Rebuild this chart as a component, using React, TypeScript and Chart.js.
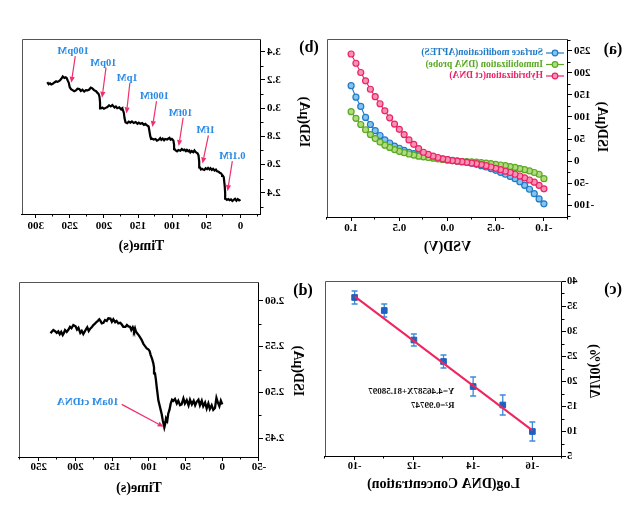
import React, { useEffect, useRef } from "react";
import { Chart, registerables } from "chart.js";
Chart.register(...registerables);

const FONT = '"Liberation Serif", "Times New Roman", serif';

// ---------- (a) I-V curves ----------
const vsd = [-1.0, -0.95, -0.9, -0.85, -0.8, -0.75, -0.7, -0.65, -0.6, -0.55, -0.5, -0.45, -0.4, -0.35, -0.3, -0.25, -0.2, -0.15, -0.1, -0.05, 0.0,
  0.05, 0.1, 0.15, 0.2, 0.25, 0.3, 0.35, 0.4, 0.45, 0.5, 0.55, 0.6, 0.65, 0.7, 0.75, 0.8, 0.85, 0.9, 0.95, 1.0];
const aptesIsd = [-97, -86, -74, -64, -55, -47, -40, -35, -30, -25.5, -21, -17, -13.5, -10.5, -7.5, -5, -3, -1.5, 0, 1.5, 3,
  4.5, 6, 7.5, 9, 11, 14, 17, 20, 24, 29, 34, 41, 48, 58, 69, 83, 99, 124, 145, 171];
const probeIsd = [-40, -30, -26, -22.5, -19.5, -17, -14.5, -12.5, -10.5, -9, -7.5, -6, -4.5, -3.5, -2.5, -2, -1.5, -1, 0, 1, 2,
  3.5, 5, 6.5, 8, 9.5, 11, 13.5, 16, 19, 22, 26, 31, 36, 43, 51, 60, 71, 83, 97, 112];
const hybridIsd = [-63, -55, -48, -43, -38, -34, -30, -26, -23, -19.5, -16.5, -13.5, -10.5, -8, -6, -4.5, -3, -1.5, 0, 1, 3,
  5, 8, 11, 15, 20, 28, 38, 48, 60, 72, 84, 98, 114, 130, 146, 163, 182, 201, 222, 243];
const ivLegend = ["Surface modification(APTES)", "Immobilization (DNA probe)", "Hybridization(ct DNA)"];
const ivXTicks = [-1.0, -0.5, 0.0, 0.5, 1.0];
const ivYTicks = [-100, -50, 0, 50, 100, 150, 200, 250];

// ---------- (b) step response ----------
const stepTime = [0, 2, 4, 6, 8, 10, 12, 14, 16, 18, 20, 21.8, 22.5, 23.2, 24.5, 25.7, 27, 28.5, 30.5, 32, 34.4, 36, 38, 40.2, 42, 44, 45.5,
  47.5, 49, 51, 53, 54.7, 56.5, 58, 59.5, 60.5, 61.5, 63, 64.5, 66, 67.5, 69.3, 71.6, 73.5, 75, 76.5, 78.5, 80, 82, 83.8, 86, 88, 91, 93,
  95, 96.5, 97.3, 98.3, 100.6, 102.5, 104, 105.5, 107.5, 110.4, 112, 114, 116, 117.6, 120, 122.4, 124.5, 127.3, 129.5, 131, 132.1, 133.5,
  134.6, 136.9, 139.4, 141.5, 144, 146.7, 149, 151, 153.5, 156.4, 159, 161.2, 163.6, 166, 168.5, 169.9, 170.9, 172.5, 173.2, 175.5,
  177.5, 180.5, 182.5, 184.5, 187.7, 190, 192.5, 195, 197.5, 200, 202.5, 204.5, 205.7, 206.5, 207.8, 209.5, 211.5, 214.5, 217, 219.3,
  221.5, 224, 226.5, 229, 231.5, 233.8, 236, 238.6, 241, 243.5, 246, 248.3, 250.2, 251.5, 253, 254.5, 256, 258, 260.3, 262.5, 264.5,
  266.5, 268, 270, 272.5, 275, 277, 279, 281, 283];
const stepIsd = [2.352, 2.346, 2.356, 2.344, 2.358, 2.35, 2.342, 2.354, 2.348, 2.356, 2.35, 2.358, 2.4, 2.45, 2.51, 2.52, 2.528, 2.538,
  2.542, 2.55, 2.553, 2.565, 2.558, 2.57, 2.562, 2.574, 2.566, 2.577, 2.568, 2.574, 2.562, 2.565, 2.57, 2.566, 2.58, 2.62, 2.665, 2.68,
  2.685, 2.69, 2.7, 2.688, 2.696, 2.686, 2.7, 2.694, 2.704, 2.696, 2.706, 2.702, 2.71, 2.698, 2.704, 2.694, 2.7, 2.71, 2.74, 2.77, 2.782,
  2.776, 2.79, 2.785, 2.778, 2.782, 2.772, 2.784, 2.776, 2.788, 2.775, 2.77, 2.782, 2.778, 2.784, 2.782, 2.8, 2.84, 2.87, 2.878, 2.888,
  2.882, 2.894, 2.889, 2.898, 2.89, 2.902, 2.895, 2.906, 2.897, 2.904, 2.894, 2.9, 2.93, 2.968, 2.99, 3.0, 2.993, 3.006, 3.0, 3.012,
  3.004, 3.022, 3.012, 3.02, 3.008, 3.002, 2.996, 3.004, 2.998, 3.04, 3.08, 3.1, 3.108, 3.12, 3.128, 3.14, 3.146, 3.132, 3.126, 3.128,
  3.118, 3.13, 3.122, 3.136, 3.138, 3.126, 3.12, 3.128, 3.135, 3.15, 3.18, 3.195, 3.212, 3.218, 3.214, 3.224, 3.208, 3.196, 3.19, 3.186,
  3.19, 3.182, 3.172, 3.168, 3.176, 3.17, 3.184];
const stepXTicks = [0, 50, 100, 150, 200, 250, 300];
const stepYTicks = [2.4, 2.6, 2.8, 3.0, 3.2, 3.4];
const concLabels = ["0.1fM", "1fM", "10fM", "100fM", "1pM", "10pM", "100pM"];
const concLabelT = [12, 51, 88, 126, 166, 201, 245];
const concLabelI = [2.657, 2.841, 2.966, 3.085, 3.215, 3.32, 3.405];
const arrowFromT = [12, 47, 84, 123, 162, 197, 242];
const arrowFromI = [2.625, 2.807, 2.932, 3.05, 3.18, 3.287, 3.369];
const arrowToT = [19, 55.7, 90.5, 129, 167, 202.8, 247.8];
const arrowToI = [2.412, 2.608, 2.731, 2.866, 2.963, 3.074, 3.18];

// ---------- (c) calibration ----------
const logConc = [-10, -11, -12, -13, -14, -15, -16];
const deltaI = [36.7, 34.1, 28.2, 23.9, 18.9, 15.2, 9.9];
const deltaErr = [1.3, 1.3, 1.2, 1.3, 1.9, 2.0, 1.9];
const fitX = [-10, -16];
const fitY = [36.92, 10.13];
const calXTicks = [-16, -14, -12, -10];
const calYTicks = [5, 10, 15, 20, 25, 30, 35, 40];
const fitText = ["Y=4.46587X+81.58097", "R\u00B2=0.99747"];

// ---------- (d) single-shot response ----------
const traceTime = [0, 2, 4, 6, 8, 10, 12.3, 14.5, 17, 19, 21.3, 23.5, 26, 28, 30.5, 32.5, 34.9, 37, 39, 41.5, 44, 46, 48.5, 51, 53,
  55.5, 57.6, 60, 62, 64.5, 66.8, 68.5, 70.3, 72, 73.6, 75, 76.7, 78, 79, 80, 81.2, 82.5, 83.9, 85.5, 87.2, 88.3, 89.4, 90.5, 91.7,
  93, 94, 95.8, 97.6, 99, 100.8, 103, 105.3, 107.5, 109.8, 112, 114, 116, 117.6, 119, 120.3, 122, 124, 125.7, 128, 130, 132, 134.9,
  137, 139, 141.7, 144, 146, 148.5, 150.5, 152.5, 155.3, 157.5, 159.8, 162, 164.3, 166, 167.6, 169.5, 171.1, 173.5, 175.7, 178, 180,
  182, 184, 186, 189.4, 191.5, 193.5, 196, 198, 200, 203, 205.5, 207.5, 210, 212, 214.3, 216, 217.4, 219.5, 221.5, 223.5, 225.6,
  227.5, 230.2, 232.4, 234];
const traceIsd = [2.487, 2.491, 2.485, 2.489, 2.494, 2.483, 2.481, 2.486, 2.482, 2.488, 2.4825, 2.489, 2.485, 2.491, 2.486, 2.492,
  2.4897, 2.486, 2.491, 2.487, 2.492, 2.486, 2.4916, 2.488, 2.4935, 2.487, 2.4861, 2.491, 2.488, 2.493, 2.4908, 2.492, 2.488, 2.481,
  2.4771, 2.469, 2.4716, 2.465, 2.4618, 2.4655, 2.4698, 2.476, 2.4807, 2.486, 2.4916, 2.499, 2.5061, 2.514, 2.5207, 2.527, 2.5317,
  2.537, 2.5407, 2.545, 2.547, 2.548, 2.5505, 2.553, 2.5571, 2.56, 2.5625, 2.5645, 2.5662, 2.57, 2.5672, 2.571, 2.568, 2.5716, 2.572,
  2.5735, 2.5715, 2.5716, 2.574, 2.576, 2.5753, 2.578, 2.5765, 2.5797, 2.577, 2.5805, 2.5808, 2.578, 2.579, 2.576, 2.5753, 2.578,
  2.5797, 2.578, 2.577, 2.575, 2.5735, 2.571, 2.5695, 2.567, 2.571, 2.5685, 2.5637, 2.567, 2.565, 2.5705, 2.5685, 2.572, 2.5735, 2.57,
  2.5715, 2.568, 2.566, 2.568, 2.5645, 2.5626, 2.566, 2.5635, 2.5665, 2.565, 2.5665, 2.568, 2.5662, 2.5645];
const traceXTicks = [-50, 0, 50, 100, 150, 200, 250];
const traceYTicks = [2.45, 2.5, 2.55, 2.6];
const traceNote = "10aM ctDNA";

// ---------- helpers ----------
type Ax = { min: number; max: number; ticks: number[]; dec: number; title: string; size: number; tickPad: number; titlePad: number; fs?: number };

function xAxis(o: Ax): any {
  return {
    type: "linear", position: "bottom", min: o.min, max: o.max, bounds: "data",
    afterBuildTicks: (s: any) => { s.ticks = o.ticks.map((v) => ({ value: v })); },
    afterFit: (s: any) => { s.height = o.size; },
    ticks: { autoSkip: false, maxRotation: 0, padding: o.tickPad, color: "#000",
      font: { family: FONT, size: o.fs || 11, weight: "bold" }, callback: (v: any) => Number(v).toFixed(o.dec) },
    grid: { display: true, drawOnChartArea: false, drawTicks: true, tickLength: 4, color: "#000", lineWidth: 1 },
    border: { display: true, color: "#000", width: 1 },
    title: { display: true, text: o.title, color: "#000", font: { family: FONT, size: 14, weight: "bold" }, padding: { top: 0, bottom: o.titlePad } },
  };
}
function yAxis(o: Ax): any {
  return {
    type: "linear", position: "left", min: o.min, max: o.max, bounds: "data",
    afterBuildTicks: (s: any) => { s.ticks = o.ticks.map((v) => ({ value: v })); },
    afterFit: (s: any) => { s.width = o.size; },
    ticks: { autoSkip: false, padding: o.tickPad, color: "#000",
      font: { family: FONT, size: o.fs || 11, weight: "bold" }, callback: (v: any) => Number(v).toFixed(o.dec) },
    grid: { display: true, drawOnChartArea: false, drawTicks: true, tickLength: 4, color: "#000", lineWidth: 1 },
    border: { display: true, color: "#000", width: 1 },
    title: { display: false, text: o.title },
  };
}

// y-axis title drawn rotated at a fixed offset from the canvas edge
function yTitle(ctx: CanvasRenderingContext2D, text: string, x: number, y: number) {
  ctx.save();
  ctx.translate(x, y);
  ctx.rotate(-Math.PI / 2);
  ctx.fillStyle = "#000";
  ctx.font = `bold 14px ${FONT}`;
  ctx.textAlign = "center";
  ctx.textBaseline = "middle";
  ctx.fillText(text, 0, 0);
  ctx.restore();
}

const common: any = {
  responsive: false, maintainAspectRatio: false, animation: false, devicePixelRatio: 1, events: [],
  plugins: { legend: { display: false }, tooltip: { enabled: false }, title: { display: false } },
};

function frame(chart: any, ctx: CanvasRenderingContext2D) {
  const a = chart.chartArea;
  ctx.strokeStyle = "#555";
  ctx.lineWidth = 1;
  ctx.beginPath();
  ctx.moveTo(Math.round(a.left), Math.round(a.top) + 0.5);
  ctx.lineTo(Math.round(a.right) - 0.5, Math.round(a.top) + 0.5);
  ctx.lineTo(Math.round(a.right) - 0.5, Math.round(a.bottom));
  ctx.stroke();
}

function minorTicks(chart: any, ctx: CanvasRenderingContext2D, id: string, majors: number[], len = 2.5) {
  const s = chart.scales[id];
  const a = chart.chartArea;
  const step = majors[1] - majors[0];
  ctx.strokeStyle = "#000";
  ctx.lineWidth = 1;
  ctx.beginPath();
  for (let i = -1; i < majors.length; i++) {
    const v = majors[0] + (i + 0.5) * step;
    if (v < s.min || v > s.max) continue;
    const p = Math.round(s.getPixelForValue(v)) + 0.5;
    if (s.isHorizontal()) { ctx.moveTo(p, a.bottom); ctx.lineTo(p, a.bottom + len); }
    else { ctx.moveTo(a.left, p); ctx.lineTo(a.left - len, p); }
  }
  ctx.stroke();
}

function panelLabel(ctx: CanvasRenderingContext2D, text: string, x: number, y: number) {
  ctx.fillStyle = "#000";
  ctx.font = `bold 16px ${FONT}`;
  ctx.textAlign = "center";
  ctx.textBaseline = "middle";
  ctx.fillText(text, x, y);
}

function arrow(ctx: CanvasRenderingContext2D, x1: number, y1: number, x2: number, y2: number, color: string) {
  const ang = Math.atan2(y2 - y1, x2 - x1);
  const hl = 6, hw = 2.6;
  const bx = x2 - hl * Math.cos(ang), by = y2 - hl * Math.sin(ang);
  ctx.strokeStyle = color;
  ctx.fillStyle = color;
  ctx.lineWidth = 1.2;
  ctx.beginPath();
  ctx.moveTo(x1, y1);
  ctx.lineTo(bx, by);
  ctx.stroke();
  ctx.beginPath();
  ctx.moveTo(x2, y2);
  ctx.lineTo(bx + hw * Math.sin(ang), by - hw * Math.cos(ang));
  ctx.lineTo(bx - hw * Math.sin(ang), by + hw * Math.cos(ang));
  ctx.closePath();
  ctx.fill();
}

function decor(draw: (chart: any, ctx: CanvasRenderingContext2D) => void, under?: (chart: any, ctx: CanvasRenderingContext2D) => void) {
  return {
    id: "decor",
    beforeDatasetsDraw(chart: any) { if (under) { const ctx = chart.ctx; ctx.save(); under(chart, ctx); ctx.restore(); } },
    afterDraw(chart: any) { const ctx = chart.ctx; ctx.save(); draw(chart, ctx); ctx.restore(); },
  };
}

const ivColors = [["#1f7bc6", "#86c2f0"], ["#5aa823", "#b0dc7e"], ["#ec2366", "#f793b2"]];

function makeA(canvas: HTMLCanvasElement) {
  const series = [aptesIsd, probeIsd, hybridIsd];
  const datasets = series.map((arr, k) => ({
    data: vsd.map((v, i) => ({ x: v, y: arr[i] })),
    borderColor: ivColors[k][0], backgroundColor: ivColors[k][1],
    pointBorderColor: ivColors[k][0], pointBackgroundColor: ivColors[k][1],
    borderWidth: 1.1, pointRadius: 3, pointBorderWidth: 1.2, pointStyle: "circle", tension: 0, order: 3 - k,
  }));
  return new Chart(canvas, {
    type: "line",
    data: { datasets },
    options: {
      ...common,
      layout: { padding: { top: 39, right: 7, left: 0, bottom: 0 } },
      scales: {
        x: xAxis({ min: -1.25, max: 1.25, ticks: ivXTicks, dec: 1, title: "VSD(V)", size: 43, tickPad: 1, titlePad: 4 }),
        y: yAxis({ min: -127, max: 277, ticks: ivYTicks, dec: 0, title: "ISD(\u03BCA)", size: 72, tickPad: 2, titlePad: 0 }),
      },
    } as any,
    plugins: [decor((chart, ctx) => {
      frame(chart, ctx);
      minorTicks(chart, ctx, "x", ivXTicks);
      minorTicks(chart, ctx, "y", ivYTicks);
      panelLabel(ctx, "(a)", 27, 50);
      yTitle(ctx, "ISD(\u03BCA)", 38, 127);
      const rows = [53, 64.5, 76];
      ivLegend.forEach((t, k) => {
        const y = rows[k];
        ctx.strokeStyle = ivColors[k][0];
        ctx.lineWidth = 1.2;
        ctx.beginPath(); ctx.moveTo(76, y); ctx.lineTo(94, y); ctx.stroke();
        ctx.beginPath(); ctx.arc(85, y, 2.8, 0, Math.PI * 2);
        ctx.fillStyle = ivColors[k][1]; ctx.fill(); ctx.stroke();
        ctx.fillStyle = ivColors[k][0];
        ctx.font = `bold 9.5px ${FONT}`;
        ctx.textAlign = "left"; ctx.textBaseline = "middle";
        ctx.fillText(t, 97, y);
      });
    }) as any],
  });
}

function makeB(canvas: HTMLCanvasElement) {
  return new Chart(canvas, {
    type: "line",
    data: { datasets: [{ data: stepTime.map((t, i) => ({ x: t, y: stepIsd[i] })), borderColor: "#000", borderWidth: 2.2, pointRadius: 0, tension: 0 }] },
    options: {
      ...common,
      layout: { padding: { top: 39, right: 22, left: 0, bottom: 0 } },
      scales: {
        x: xAxis({ min: -30, max: 320, ticks: stepXTicks, dec: 0, title: "Time(s)", size: 46, tickPad: 2, titlePad: 5 }),
        y: yAxis({ min: 2.25, max: 3.49, ticks: stepYTicks, dec: 1, title: "ISD(\u03BCA)", size: 59, tickPad: 2, titlePad: 0 }),
      },
    } as any,
    plugins: [decor((chart, ctx) => {
      frame(chart, ctx);
      minorTicks(chart, ctx, "x", stepXTicks);
      minorTicks(chart, ctx, "y", stepYTicks);
      panelLabel(ctx, "(b)", 11, 48);
      yTitle(ctx, "ISD(\u03BCA)", 16.5, 122);
      const sx = chart.scales.x, sy = chart.scales.y;
      concLabels.forEach((t, i) => {
        arrow(ctx, sx.getPixelForValue(arrowFromT[i]), sy.getPixelForValue(arrowFromI[i]),
          sx.getPixelForValue(arrowToT[i]), sy.getPixelForValue(arrowToI[i]), "#f0306a");
        ctx.fillStyle = "#2a8ae6";
        ctx.font = `bold 10.5px ${FONT}`;
        ctx.textAlign = "center"; ctx.textBaseline = "middle";
        ctx.fillText(t, sx.getPixelForValue(concLabelT[i]), sy.getPixelForValue(concLabelI[i]));
      });
    }) as any],
  });
}

function makeC(canvas: HTMLCanvasElement) {
  return new Chart(canvas, {
    type: "line",
    data: {
      datasets: [
        { data: fitX.map((x, i) => ({ x, y: fitY[i] })), borderColor: "#ef2560", borderWidth: 2, pointRadius: 0, tension: 0, order: 0 },
        { data: logConc.map((x, i) => ({ x, y: deltaI[i] })), showLine: false, pointStyle: "rect", pointRadius: 4,
          pointBackgroundColor: "#1d62bd", pointBorderColor: "#1d62bd", borderColor: "#1d62bd", order: 1 },
      ],
    },
    options: {
      ...common,
      layout: { padding: { top: 21, right: 2, left: 0, bottom: 0 } },
      scales: {
        x: xAxis({ min: -17, max: -9, ticks: calXTicks, dec: 0, title: "Log(DNA Concentration)", size: 76, tickPad: 0, titlePad: 39, fs: 10.5 }),
        y: yAxis({ min: 5, max: 40, ticks: calYTicks, dec: 0, title: "\u0394I/I0(%)", size: 78, tickPad: 1, titlePad: 0, fs: 10.5 }),
      },
    } as any,
    plugins: [decor((chart, ctx) => {
      frame(chart, ctx);
      minorTicks(chart, ctx, "x", calXTicks);
      minorTicks(chart, ctx, "y", calYTicks);
      panelLabel(ctx, "(c)", 27, 30);
      yTitle(ctx, "\u0394I/I0(%)", 46, 111);
      const sx = chart.scales.x, sy = chart.scales.y;
      ctx.fillStyle = "#111";
      ctx.font = `bold 9px ${FONT}`;
      ctx.textAlign = "left"; ctx.textBaseline = "middle";
      ctx.fillText(fitText[0], sx.getPixelForValue(-13.37), sy.getPixelForValue(17.86));
      ctx.fillText(fitText[1], sx.getPixelForValue(-13.37), sy.getPixelForValue(15.06));
    }, (chart, ctx) => {
      const sx = chart.scales.x, sy = chart.scales.y;
      ctx.strokeStyle = "#3f8ad8";
      ctx.lineWidth = 1.3;
      ctx.beginPath();
      logConc.forEach((x, i) => {
        const px = sx.getPixelForValue(x);
        const t = sy.getPixelForValue(deltaI[i] + deltaErr[i]);
        const b = sy.getPixelForValue(deltaI[i] - deltaErr[i]);
        ctx.moveTo(px, t); ctx.lineTo(px, b);
        ctx.moveTo(px - 3, t); ctx.lineTo(px + 3, t);
        ctx.moveTo(px - 3, b); ctx.lineTo(px + 3, b);
      });
      ctx.stroke();
    }) as any],
  });
}

function makeD(canvas: HTMLCanvasElement) {
  return new Chart(canvas, {
    type: "line",
    data: { datasets: [{ data: traceTime.map((t, i) => ({ x: t, y: traceIsd[i] })), borderColor: "#000", borderWidth: 2.3, pointRadius: 0, tension: 0 }] },
    options: {
      ...common,
      layout: { padding: { top: 22, right: 19, left: 0, bottom: 0 } },
      scales: {
        x: xAxis({ min: -50, max: 277, ticks: traceXTicks, dec: 0, title: "Time(s)", size: 75, tickPad: 0, titlePad: 35 }),
        y: yAxis({ min: 2.4296, max: 2.6204, ticks: traceYTicks, dec: 2, title: "ISD(\u03BCA)", size: 61, tickPad: 2, titlePad: 0 }),
      },
    } as any,
    plugins: [decor((chart, ctx) => {
      frame(chart, ctx);
      minorTicks(chart, ctx, "x", traceXTicks);
      minorTicks(chart, ctx, "y", traceYTicks);
      panelLabel(ctx, "(d)", 17, 31);
      yTitle(ctx, "ISD(\u03BCA)", 22.5, 111);
      const sx = chart.scales.x, sy = chart.scales.y;
      arrow(ctx, sx.getPixelForValue(137), sy.getPixelForValue(2.487), sx.getPixelForValue(80), sy.getPixelForValue(2.4625), "#f0306a");
      ctx.fillStyle = "#2a8ae6";
      ctx.font = `bold 11px ${FONT}`;
      ctx.textAlign = "left"; ctx.textBaseline = "middle";
      ctx.fillText(traceNote, sx.getPixelForValue(141), sy.getPixelForValue(2.4895));
    }) as any],
  });
}

export default function App() {
  const ra = useRef<HTMLCanvasElement>(null);
  const rb = useRef<HTMLCanvasElement>(null);
  const rc = useRef<HTMLCanvasElement>(null);
  const rd = useRef<HTMLCanvasElement>(null);
  useEffect(() => {
    const charts = [makeA(ra.current!), makeB(rb.current!), makeC(rc.current!), makeD(rd.current!)];
    return () => charts.forEach((c) => c.destroy());
  }, []);
  const cs = (l: number, t: number, w: number, h: number): React.CSSProperties => ({ position: "absolute", left: l, top: t, width: w, height: h, display: "block" });
  return (
    <div style={{ position: "fixed", left: 0, top: 0, width: 640, height: 532, background: "#fff", overflow: "hidden", transform: "scaleX(-1)" }}>
      <canvas ref={ra} width={320} height={260} style={cs(0, 0, 320, 260)} />
      <canvas ref={rb} width={320} height={260} style={cs(320, 0, 320, 260)} />
      <canvas ref={rc} width={320} height={272} style={cs(0, 260, 320, 272)} />
      <canvas ref={rd} width={320} height={272} style={cs(320, 260, 320, 272)} />
    </div>
  );
}
